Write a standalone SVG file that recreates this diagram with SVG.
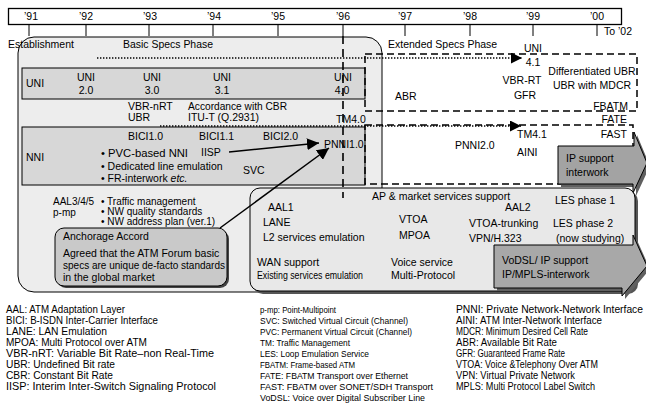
<svg xmlns="http://www.w3.org/2000/svg" width="646" height="403" viewBox="0 0 646 403">
<style>
text{font-family:"Liberation Sans",Arial,sans-serif;font-size:10.5px;fill:#000}
.m{text-anchor:middle}
.e{text-anchor:end}
.s{font-size:10px}
.lg2{font-size:9.8px}
.ln{stroke:#000;stroke-width:1;fill:none}
.dash{stroke:#000;stroke-width:1.5;fill:none;stroke-dasharray:7 4}
.dot{stroke:#000;stroke-width:1.3;fill:none;stroke-dasharray:1.4 1.6}
.row{fill:#d7d7d7;stroke:#000;stroke-width:1}
</style>
<defs>
<marker id="ah" viewBox="0 0 10 10" refX="10" refY="5" markerWidth="11" markerHeight="11" markerUnits="userSpaceOnUse" orient="auto"><path d="M0,0 L10,5 L0,10 z" fill="#000"/></marker>
<marker id="ahb" viewBox="0 0 10 10" refX="10" refY="5" markerWidth="12" markerHeight="12" markerUnits="userSpaceOnUse" orient="auto"><path d="M0,0 L10,5 L0,10 z" fill="#000"/></marker>
</defs>

<g id="timeline">
<rect x="8.5" y="8.5" width="613" height="16" fill="#fff" stroke="#000" stroke-width="1.3"/>
<g class="ln">
<line x1="29" y1="24" x2="29" y2="36"/><line x1="86" y1="24" x2="86" y2="36"/><line x1="149" y1="24" x2="149" y2="36"/><line x1="213" y1="24" x2="213" y2="36"/><line x1="278" y1="24" x2="278" y2="36"/><line x1="343" y1="24" x2="343" y2="36"/><line x1="405" y1="24" x2="405" y2="36"/><line x1="470" y1="24" x2="470" y2="36"/><line x1="533" y1="24" x2="533" y2="36"/><line x1="597" y1="24" x2="597" y2="36"/>
</g>
<text class="m" x="31" y="20">’91</text><text class="m" x="86" y="20">’92</text><text class="m" x="150" y="20">’93</text><text class="m" x="214" y="20">’94</text><text class="m" x="278" y="20">’95</text><text class="m" x="343" y="20">’96</text><text class="m" x="405" y="20">’97</text><text class="m" x="470" y="20">’98</text><text class="m" x="533" y="20">’99</text><text class="m" x="597" y="20">’00</text>
<text x="604" y="35">To ’02</text>
</g>

<g id="basic-phase">
<rect x="18" y="37" width="364" height="255" rx="16" fill="#ededed" stroke="#000" stroke-width="1"/>
</g>
<text x="8" y="48">Establishment</text>
<text x="123" y="48" textLength="90" lengthAdjust="spacingAndGlyphs">Basic Specs Phase</text>
<text x="388" y="48">Extended Specs Phase</text>

<g id="uni-row">
<rect class="row" x="22" y="68" width="343" height="31"/>
<text x="26" y="87">UNI</text>
<text class="m" x="86" y="81">UNI</text><text class="m" x="86" y="94">2.0</text>
<text class="m" x="152" y="81">UNI</text><text class="m" x="152" y="94">3.0</text>
<text class="m" x="222" y="81">UNI</text><text class="m" x="222" y="94">3.1</text>
<text class="m" x="343" y="81">UNI</text><text class="m" x="342" y="94">4.0</text>
</g>
<text x="128" y="110">VBR-nRT</text><text x="128" y="121">UBR</text>
<text x="188" y="110" textLength="99" lengthAdjust="spacingAndGlyphs">Accordance with CBR</text><text x="188" y="121">ITU-T (Q.2931)</text>

<g id="nni-row">
<rect class="row" x="22" y="127" width="343" height="58"/>
<text x="26" y="161">NNI</text>
<text x="128" y="140">BICI1.0</text>
<text x="199" y="140">BICI1.1</text>
<text x="263" y="140">BICI2.0</text>
<text x="324" y="148">PNNI1.0</text>
<text x="201" y="156">IISP</text>
<text x="101" y="157" textLength="87" lengthAdjust="spacingAndGlyphs">• PVC-based NNI</text>
<text x="101" y="170">• Dedicated line emulation</text>
<text x="101" y="182">• FR-interwork <tspan font-style="italic">etc.</tspan></text>
<text x="243" y="174">SVC</text>
</g>
<text x="336" y="123">TM4.0</text>

<g id="extended-uni">
<rect class="dash" x="365" y="54" width="272" height="57"/>
<text x="395" y="100">ABR</text>
<text class="m" x="533" y="52">UNI</text>
<text class="m" x="533" y="66">4.1</text>
<text class="m" x="522" y="84">VBR-RT</text>
<text class="m" x="525" y="99">GFR</text>
<text class="m" x="592" y="75">Differentiated UBR</text>
<text class="m" x="592" y="89">UBR with MDCR</text>
<text class="e" x="628" y="110">FBATM</text>
</g>

<g id="extended-nni">
<rect class="dash" x="365" y="125" width="268" height="59"/>
<text class="e" x="627" y="123">FATE</text>
<text class="e" x="627" y="138">FAST</text>
<text x="517" y="138">TM4.1</text>
<text x="517" y="156">AINI</text>
<text x="455" y="149">PNNI2.0</text>
</g>

<g id="ip-support">
<path d="M561,149 H637 V135 L650,166 L636,196 V187 H561 z" fill="#606060"/>
<path d="M558,146 H634 V132 L647,163 L633,193 V184 H558 z" fill="#a3a3a3" stroke="#000" stroke-width="1"/>
<text x="566" y="162">IP support</text>
<text x="566" y="176">interwork</text>
</g>

<g id="anchorage">
<rect x="57" y="230" width="172" height="58" rx="9" fill="#444"/>
<rect x="55" y="228" width="172" height="58" rx="9" fill="#c9c9c9" stroke="#000" stroke-width="1"/>
<text x="63" y="240">Anchorage Accord</text>
<text x="63" y="257">Agreed that the ATM Forum basic</text>
<text x="63" y="269" textLength="162" lengthAdjust="spacingAndGlyphs">specs are unique de-facto standards</text>
<text x="63" y="281">in the global market</text>
</g>
<text class="s" x="53" y="205">AAL3/4/5</text>
<text class="s" x="53" y="216">p-mp</text>
<text class="s" x="101" y="205">• Traffic management</text>
<text class="s" x="101" y="215">• NW quality standards</text>
<text class="s" x="101" y="225">• NW address plan (ver.1)</text>

<g id="ap-services">
<rect x="253" y="191" width="385" height="103" rx="10" fill="#555"/>
<rect x="250" y="188" width="385" height="103" rx="10" fill="#e8e8e8" stroke="#000" stroke-width="1"/>
<text x="372" y="200">AP &amp; market  services support</text>
<text x="268" y="211">AAL1</text>
<text x="263" y="226">LANE</text>
<text x="263" y="241">L2 services emulation</text>
<text x="399" y="223">VTOA</text>
<text x="399" y="239">MPOA</text>
<text x="505" y="211">AAL2</text>
<text x="555" y="204">LES phase 1</text>
<text x="469" y="227">VTOA-trunking</text>
<text x="553" y="227">LES phase 2</text>
<text x="469" y="242">VPN/H.323</text>
<text x="556" y="242">(now studying)</text>
<text x="257" y="266">WAN support</text>
<text x="257" y="279" textLength="106" lengthAdjust="spacingAndGlyphs">Existing services emulation</text>
<text x="391" y="266">Voice service</text>
<text x="391" y="279">Multi-Protocol</text>
</g>

<g id="vodsl">
<path d="M497,248 H636 V238 L650,269 L625,299 V291 H497 z" fill="#606060"/>
<path d="M494,245 H633 V235 L647,266 L622,296 V288 H494 z" fill="#a8a8a8" stroke="#000" stroke-width="1"/>
<text x="502" y="264">VoDSL/ IP support</text>
<text x="502" y="278">IP/MPLS-interwork</text>
</g>

<g id="connectors">
<line x1="343" y1="36" x2="343" y2="198" stroke="#000" stroke-width="1.6" stroke-dasharray="8 5"/>
<line class="dot" x1="97" y1="58" x2="522" y2="58" marker-end="url(#ah)"/>
<line class="dot" x1="160" y1="126" x2="521" y2="126" marker-end="url(#ah)"/>
<line x1="229" y1="152" x2="319" y2="143" stroke="#000" stroke-width="1.5" marker-end="url(#ahb)"/>
<line x1="220" y1="228" x2="329" y2="148" stroke="#000" stroke-width="1.5" marker-end="url(#ahb)"/>
</g>

<g id="legend">
<text x="6" y="313" textLength="119" lengthAdjust="spacingAndGlyphs">AAL: ATM Adaptation Layer</text>
<text x="6" y="324" textLength="152" lengthAdjust="spacingAndGlyphs">BICI: B-ISDN Inter-Carrier Interface</text>
<text x="6" y="335" textLength="101" lengthAdjust="spacingAndGlyphs">LANE: LAN Emulation</text>
<text x="6" y="346" textLength="141" lengthAdjust="spacingAndGlyphs">MPOA: Multi Protocol over ATM</text>
<text x="6" y="357" textLength="208" lengthAdjust="spacingAndGlyphs">VBR-nRT: Variable Bit Rate–non Real-Time</text>
<text x="6" y="368" textLength="109" lengthAdjust="spacingAndGlyphs">UBR: Undefined Bit rate</text>
<text x="6" y="379" textLength="107" lengthAdjust="spacingAndGlyphs">CBR: Constant Bit Rate</text>
<text x="6" y="390" textLength="210" lengthAdjust="spacingAndGlyphs">IISP: Interim Inter-Switch Signaling Protocol</text>
<g class="lg2">
<text class="lg2" x="260" y="313" textLength="76" lengthAdjust="spacingAndGlyphs">p-mp: Point-Multipoint</text>
<text class="lg2" x="260" y="324" textLength="148" lengthAdjust="spacingAndGlyphs">SVC: Switched Virtual Circuit (Channel)</text>
<text class="lg2" x="260" y="335" textLength="152" lengthAdjust="spacingAndGlyphs">PVC: Permanent Virtual Circuit (Channel)</text>
<text class="lg2" x="260" y="346" textLength="90" lengthAdjust="spacingAndGlyphs">TM: Traffic Management</text>
<text class="lg2" x="260" y="357" textLength="109" lengthAdjust="spacingAndGlyphs">LES: Loop Emulation Service</text>
<text class="lg2" x="260" y="368" textLength="95" lengthAdjust="spacingAndGlyphs">FBATM: Frame-based ATM</text>
<text class="lg2" x="260" y="379" textLength="148" lengthAdjust="spacingAndGlyphs">FATE: FBATM Transport over Ethernet</text>
<text class="lg2" x="260" y="390" textLength="173" lengthAdjust="spacingAndGlyphs">FAST: FBATM over SONET/SDH Transport</text>
<text class="lg2" x="260" y="401" textLength="165" lengthAdjust="spacingAndGlyphs">VoDSL: Voice over Digital Subscriber Line</text>
</g>
<text x="456" y="313" textLength="187" lengthAdjust="spacingAndGlyphs">PNNI: Private Network-Network Interface</text>
<text x="456" y="324" textLength="146" lengthAdjust="spacingAndGlyphs">AINI:  ATM Inter-Network Interface</text>
<text x="456" y="335" textLength="132" lengthAdjust="spacingAndGlyphs">MDCR: Minimum Desired Cell Rate</text>
<text x="456" y="346" textLength="101" lengthAdjust="spacingAndGlyphs">ABR: Available Bit Rate</text>
<text x="456" y="357" textLength="109" lengthAdjust="spacingAndGlyphs">GFR: Guaranteed Frame Rate</text>
<text x="456" y="368" textLength="142" lengthAdjust="spacingAndGlyphs">VTOA: Voice &amp;Telephony Over ATM</text>
<text x="456" y="379" textLength="119" lengthAdjust="spacingAndGlyphs">VPN: Virtual Private Network</text>
<text x="456" y="390" textLength="139" lengthAdjust="spacingAndGlyphs">MPLS: Multi Protocol Label Switch</text>
</g>
</svg>
